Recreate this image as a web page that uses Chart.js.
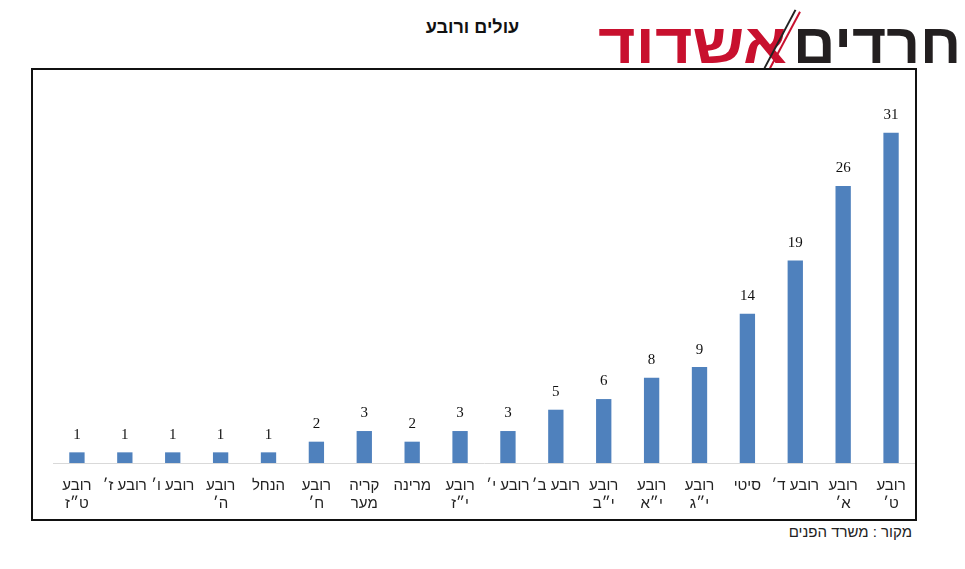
<!DOCTYPE html>
<html>
<head>
<meta charset="utf-8">
<script src="https://cdn.jsdelivr.net/npm/chart.js@4"></script>
<style>
  body { margin: 0; width: 965px; height: 569px; background: #fff; position: relative; overflow: hidden; font-family: "Liberation Sans", Arial, sans-serif; }
  #title { position: absolute; left: 400px; top: 17px; width: 145px; text-align: center; font-weight: bold; font-size: 18px; color: #111; }
  .logo { position: absolute; top: 16px; font-weight: bold; font-size: 56px; line-height: 56px; white-space: nowrap; transform-origin: 0 0; }
  #logoRed { left: 598px; color: #c8102e; transform: scaleX(1.15); }
  #logoBlack { left: 793px; color: #231f20; transform: scaleX(1.05); }
  #slash1 { position: absolute; left: 779px; top: 6px; width: 2px; height: 66px; background: #222; transform: rotate(28deg); }
  #slash2 { position: absolute; left: 784px; top: 8px; width: 2px; height: 64px; background: #c8102e; transform: rotate(28deg); }
  #frame { position: absolute; left: 31px; top: 68px; width: 882px; height: 449px; border: 2px solid #111; }
  #chartBox { position: absolute; left: 0; top: 0; width: 882px; height: 449px; }
  #source { position: absolute; left: 700px; top: 523px; width: 212px; text-align: right; font-size: 15px; color: #222; }
</style>
</head>
<body>
<div id="title" dir="rtl">עולים ורובע</div>
<div class="logo" id="logoRed" dir="rtl">אשדוד</div>
<div class="logo" id="logoBlack" dir="rtl">חרדים</div>
<div id="slash1"></div><div id="slash2"></div>
<div id="frame"><div id="chartBox"><canvas id="myChart"></canvas></div></div>
<div id="source" dir="rtl">מקור : משרד הפנים</div>
<script>
var neighborhoods = [
  ["רובע", "ט״ז"], "רובע ז׳", "רובע ו׳", ["רובע", "ה׳"], "הנחל", ["רובע", "ח׳"],
  ["קריה", "מער"], "מרינה", ["רובע", "י״ז"], "רובע י׳", "רובע ב׳", ["רובע", "י״ב"],
  ["רובע", "י״א"], ["רובע", "י״ג"], "סיטי", "רובע ד׳", ["רובע", "א׳"], ["רובע", "ט׳"]
];
var immigrants = [1, 1, 1, 1, 1, 2, 3, 2, 3, 3, 5, 6, 8, 9, 14, 19, 26, 31];

var valueLabels = {
  id: "valueLabels",
  afterDatasetsDraw: function (chart) {
    var ctx = chart.ctx;
    var meta = chart.getDatasetMeta(0);
    ctx.save();
    ctx.font = "15px 'Liberation Serif', serif";
    ctx.fillStyle = "#111";
    ctx.textAlign = "center";
    ctx.textBaseline = "bottom";
    meta.data.forEach(function (bar, i) {
      ctx.fillText(immigrants[i], bar.x, bar.y - 10);
    });
    ctx.restore();
  }
};

var ctx = document.getElementById("myChart").getContext("2d");
var chart = new Chart(ctx, {
  type: "bar",
  data: {
    labels: neighborhoods,
    datasets: [
      {
        data: immigrants,
        backgroundColor: "#4f81bd",
        barPercentage: 0.32,
        categoryPercentage: 1
      }
    ]
  },
  plugins: [valueLabels],
  options: {
    responsive: true,
    maintainAspectRatio: false,
    animation: false,
    layout: { padding: { left: 20, right: 0, top: 20, bottom: 0 } },
    plugins: { legend: { display: false }, tooltip: { enabled: false } },
    scales: {
      x: {
        grid: { display: false },
        border: { display: true, color: "#d9d9d9", width: 1 },
        ticks: {
          color: "#222",
          font: { family: "'Liberation Sans', Arial, sans-serif", size: 15 },
          padding: 6,
          maxRotation: 0,
          autoSkip: false
        },
        afterFit: function (scale) { scale.height = 56; }
      },
      y: { display: false, min: 0, max: 35 }
    }
  }
});
</script>
</body>
</html>
